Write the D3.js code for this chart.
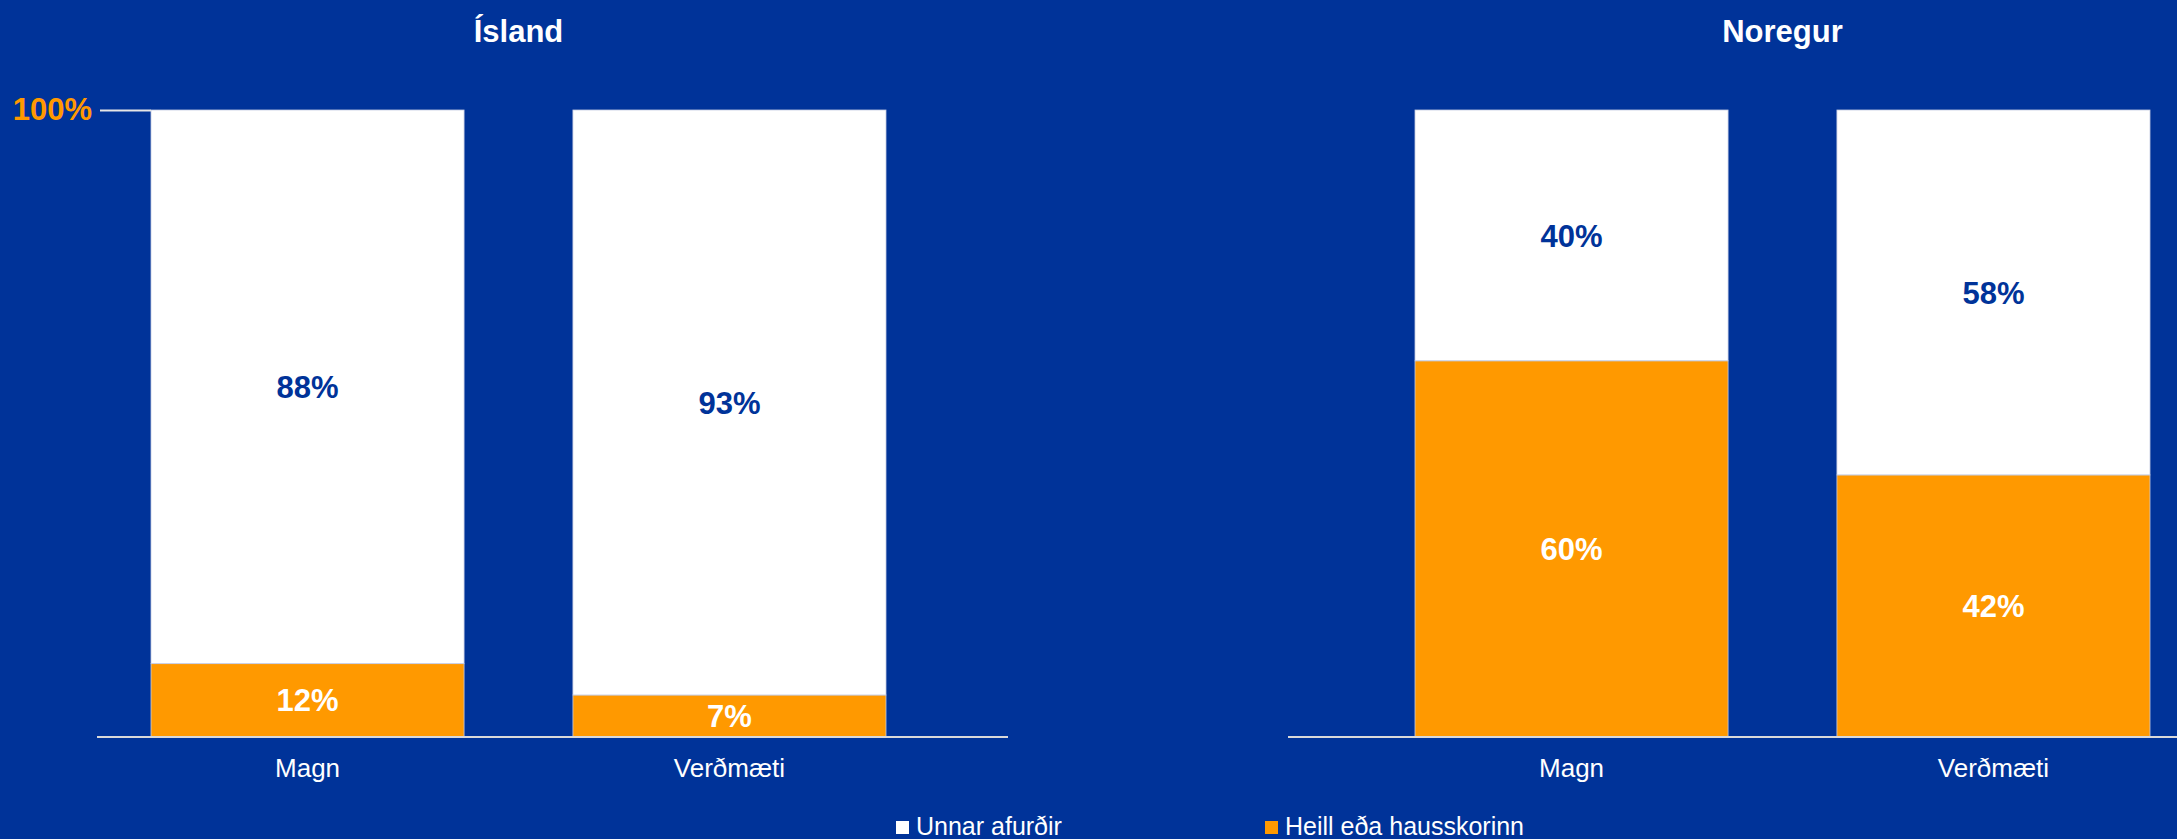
<!DOCTYPE html>
<html>
<head>
<meta charset="utf-8">
<script src="https://cdn.jsdelivr.net/npm/d3@7"></script>
<style>
  body { margin: 0; background: #003399; }
  svg { display: block; font-family: "Liberation Sans", Arial, sans-serif; }
</style>
</head>
<body>
<div id="chart"></div>
<script>
// data
var countries = ["Ísland", "Noregur"];
var categories = ["Magn", "Verðmæti"];
var seriesNames = ["Unnar afurðir", "Heill eða hausskorinn"];
// per country: [Magn, Verðmæti]
var heill = [[11.7, 6.7], [60.0, 41.8]];
var unnar = [[88.3, 93.3], [40.0, 58.2]];
var yTicks = [100];

var width = 2177,
  height = 839,
  blue = "#003399",
  orange = "#FF9900";

// panel layout
var panels = [
  { bandStart: 151, axisStart: 97, axisEnd: 1008, yAxis: true },
  { bandStart: 1415, axisStart: 1288, axisEnd: 2177, yAxis: false }
];

var svg = d3.select("#chart").append("svg")
  .attr("width", width)
  .attr("height", height);

svg.append("rect")
  .attr("width", width)
  .attr("height", height)
  .attr("fill", blue);

var y = d3.scaleLinear()
  .domain([0, 100])
  .range([737, 110]);

var color = d3.scaleOrdinal()
  .domain(seriesNames)
  .range(["#ffffff", orange]);

countries.forEach(function(country, i) {
  var p = panels[i];
  var x = d3.scaleBand()
    .domain(categories)
    .range([p.bandStart, p.bandStart + 735])
    .paddingInner(0.258)
    .paddingOuter(0);

  var g = svg.append("g").attr("class", "panel");

  // stack: orange at bottom, white on top
  var rows = categories.map(function(c, j) {
    return { cat: c, "Heill eða hausskorinn": heill[i][j], "Unnar afurðir": unnar[i][j] };
  });
  var stack = d3.stack().keys(["Heill eða hausskorinn", "Unnar afurðir"])(rows);

  stack.forEach(function(layer) {
    g.append("g")
      .selectAll("rect")
      .data(layer)
      .enter().append("rect")
      .attr("x", function(d) { return x(d.data.cat); })
      .attr("y", function(d) { return y(d[1]); })
      .attr("width", x.bandwidth())
      .attr("height", function(d) { return y(d[0]) - y(d[1]); })
      .attr("fill", color(layer.key))
      .attr("stroke", "#c4cbe2")
      .attr("stroke-width", 0.8);

    g.append("g")
      .selectAll("text")
      .data(layer)
      .enter().append("text")
      .attr("x", function(d) { return x(d.data.cat) + x.bandwidth() / 2; })
      .attr("y", function(d) { return (y(d[0]) + y(d[1])) / 2; })
      .attr("dy", "0.36em")
      .attr("text-anchor", "middle")
      .attr("font-size", 31)
      .attr("font-weight", "bold")
      .attr("fill", layer.key == "Unnar afurðir" ? blue : "#ffffff")
      .text(function(d) { return Math.round(d[1] - d[0]) + "%"; });
  });

  // baseline
  g.append("line")
    .attr("x1", p.axisStart)
    .attr("x2", p.axisEnd)
    .attr("y1", y(0))
    .attr("y2", y(0))
    .attr("stroke", "#d9d9d9")
    .attr("stroke-width", 2);

  // category labels
  var xAxis = g.append("g")
    .attr("transform", "translate(0," + y(0) + ")")
    .call(d3.axisBottom(x).tickSize(0).tickPadding(22));
  xAxis.select(".domain").remove();
  xAxis.selectAll("text")
    .attr("font-size", 26)
    .attr("font-family", "Liberation Sans, Arial, sans-serif")
    .attr("fill", "#ffffff");

  // title
  g.append("text")
    .attr("x", (x.range()[0] + x.range()[1]) / 2)
    .attr("y", 42)
    .attr("text-anchor", "middle")
    .attr("font-size", 31)
    .attr("font-weight", "bold")
    .attr("fill", "#ffffff")
    .text(country);

  if (p.yAxis) {
    var yAxis = g.append("g")
      .attr("transform", "translate(" + p.bandStart + ",0)")
      .call(d3.axisLeft(y).tickValues(yTicks).tickSize(51).tickPadding(8)
        .tickFormat(function(d) { return d + "%"; }));
    yAxis.select(".domain").remove();
    yAxis.selectAll("line").attr("stroke", "#e6e6e6").attr("stroke-width", 2);
    yAxis.selectAll("text")
      .attr("font-size", 31)
      .attr("font-weight", "bold")
      .attr("font-family", "Liberation Sans, Arial, sans-serif")
      .attr("fill", orange);
  }
});

// legend
var legendX = [896, 1265];
var legend = svg.append("g")
  .selectAll("g")
  .data(seriesNames)
  .enter().append("g")
  .attr("transform", function(d, i) { return "translate(" + legendX[i] + ",821)"; });

legend.append("rect")
  .attr("width", 13)
  .attr("height", 13)
  .attr("fill", function(d) { return color(d); });

legend.append("text")
  .attr("x", 20)
  .attr("y", 14)
  .attr("font-size", 25)
  .attr("fill", "#ffffff")
  .text(function(d) { return d; });
</script>
</body>
</html>
